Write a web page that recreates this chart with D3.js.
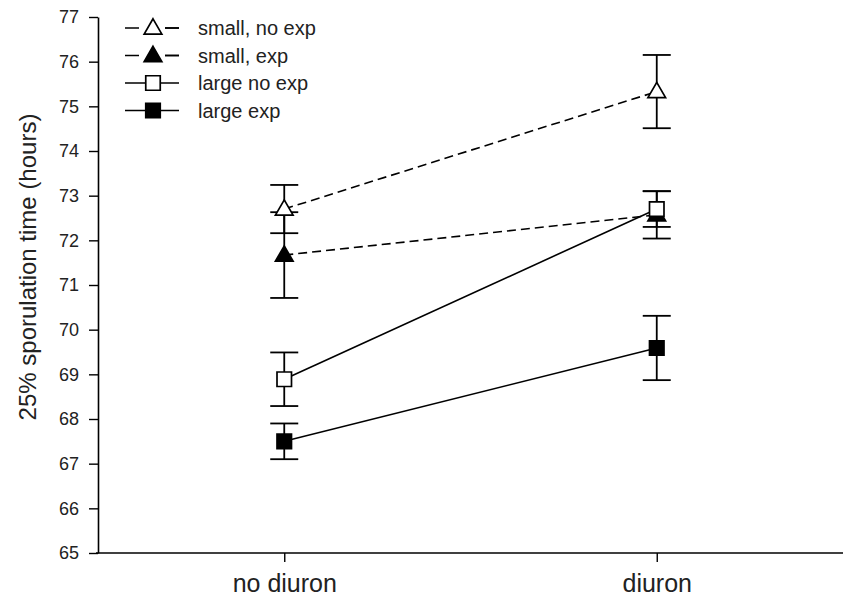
<!DOCTYPE html>
<html><head><meta charset="utf-8">
<script src="https://cdn.jsdelivr.net/npm/d3@7"></script>
<style>body{margin:0;background:#fff;}svg{display:block;font-family:Arial,"Liberation Sans",sans-serif;}</style>
</head><body>
<svg id="chart" width="844" height="601"></svg>
<script>
const categories = ["no diuron", "diuron"];
const seriesNames = ["small, no exp", "small, exp", "large no exp", "large exp"];
const seriesMeans = [
  [72.70, 75.33],
  [71.67, 72.57],
  [68.89, 72.70],
  [67.50, 69.59]
];
const seriesErrors = [
  [0.54, 0.82],
  [0.96, 0.53],
  [0.60, 0.40],
  [0.40, 0.72]
];
const seriesSymbols = ["triangle", "triangle", "square", "square"];
const seriesFilled = [false, true, false, true];
const seriesDashed = [true, true, false, false];
const yTicks = [65, 66, 67, 68, 69, 70, 71, 72, 73, 74, 75, 76, 77];
const yLabel = "25% sporulation time (hours)";

(function () {
const svg = d3.select("#chart");
const mLeft = 98, mRight = 843, mTop = 17, mBottom = 553;
const x = d3.scalePoint().domain(categories).range([mLeft, mRight]).padding(0.5);
const y = d3.scaleLinear().domain([65, 77]).range([mBottom, mTop]);

// axes
const yAxis = svg.append("g").attr("transform", `translate(${mLeft},0)`)
  .call(d3.axisLeft(y).tickValues(yTicks).tickSize(9).tickPadding(10).tickSizeOuter(0));
yAxis.select(".domain").attr("stroke", "#000").attr("stroke-width", 1.6);
yAxis.selectAll(".tick line").attr("stroke-width", 1.4);
yAxis.selectAll(".tick text").attr("font-size", 18).attr("fill", "#222").attr("font-family", "Arial, 'Liberation Sans', sans-serif");

const xAxis = svg.append("g").attr("transform", `translate(0,${mBottom})`)
  .call(d3.axisBottom(x).tickSize(9).tickPadding(12).tickSizeOuter(0));
xAxis.select(".domain").attr("stroke", "#000").attr("stroke-width", 1.6)
  .attr("d", `M${mLeft - 2},0H${mRight}`);
xAxis.selectAll(".tick line").attr("stroke-width", 1.4);
xAxis.selectAll(".tick text").attr("font-size", 25).attr("fill", "#222").attr("font-family", "Arial, 'Liberation Sans', sans-serif");

svg.append("text")
  .attr("transform", `translate(36,${(mTop + mBottom) / 2 - 18}) rotate(-90)`)
  .attr("text-anchor", "middle")
  .attr("font-size", 24)
  .attr("fill", "#222")
  .text(yLabel);

const symTri = d3.symbol().type(d3.symbolTriangle).size(135);
const symSq = d3.symbol().type(d3.symbolSquare).size(210);
function drawSymbol(g, i, cx, cy) {
  const gen = seriesSymbols[i] === "triangle" ? symTri : symSq;
  const dy = seriesSymbols[i] === "triangle" ? 1 : 0;
  g.append("path").attr("d", gen())
    .attr("transform", `translate(${cx},${cy + dy})`)
    .attr("fill", seriesFilled[i] ? "#000" : "#fff")
    .attr("stroke", "#000").attr("stroke-width", 1.7);
}

const line = d3.line().x((d, j) => x(categories[j])).y(d => y(d));

// error bars
seriesMeans.forEach((vals, i) => {
  const g = svg.append("g");
  vals.forEach((v, j) => {
    const cx = x(categories[j]);
    const e = seriesErrors[i][j];
    g.append("line").attr("x1", cx).attr("x2", cx).attr("y1", y(v + e)).attr("y2", y(v - e))
      .attr("stroke", "#000").attr("stroke-width", 1.8);
    [v + e, v - e].forEach(t => {
      g.append("line").attr("x1", cx - 14).attr("x2", cx + 14).attr("y1", y(t)).attr("y2", y(t))
        .attr("stroke", "#000").attr("stroke-width", 1.8);
    });
  });
});

// lines
seriesMeans.forEach((vals, i) => {
  svg.append("path").attr("d", line(vals)).attr("fill", "none")
    .attr("stroke", "#000").attr("stroke-width", 1.6)
    .attr("stroke-dasharray", seriesDashed[i] ? "9,5" : null);
});

// markers
seriesMeans.forEach((vals, i) => {
  const g = svg.append("g");
  vals.forEach((v, j) => drawSymbol(g, i, x(categories[j]), y(v)));
});

// legend
const legend = svg.append("g");
seriesNames.forEach((name, i) => {
  const ly = 28 + i * 27.5;
  const g = legend.append("g");
  g.append("line").attr("x1", 125).attr("x2", 179).attr("y1", ly).attr("y2", ly)
    .attr("stroke", "#000").attr("stroke-width", 1.6)
    .attr("stroke-dasharray", seriesDashed[i] ? "14,26" : null);
  if (seriesDashed[i]) {
    g.append("line").attr("x1", 165).attr("x2", 179).attr("y1", ly).attr("y2", ly)
      .attr("stroke", "#000").attr("stroke-width", 1.6);
  }
  drawSymbol(g, i, 153, ly);
  g.append("text").attr("x", 198).attr("y", ly).attr("dy", "0.35em")
    .attr("font-size", 20).attr("fill", "#222").text(name);
});
})();
</script>
</body></html>
